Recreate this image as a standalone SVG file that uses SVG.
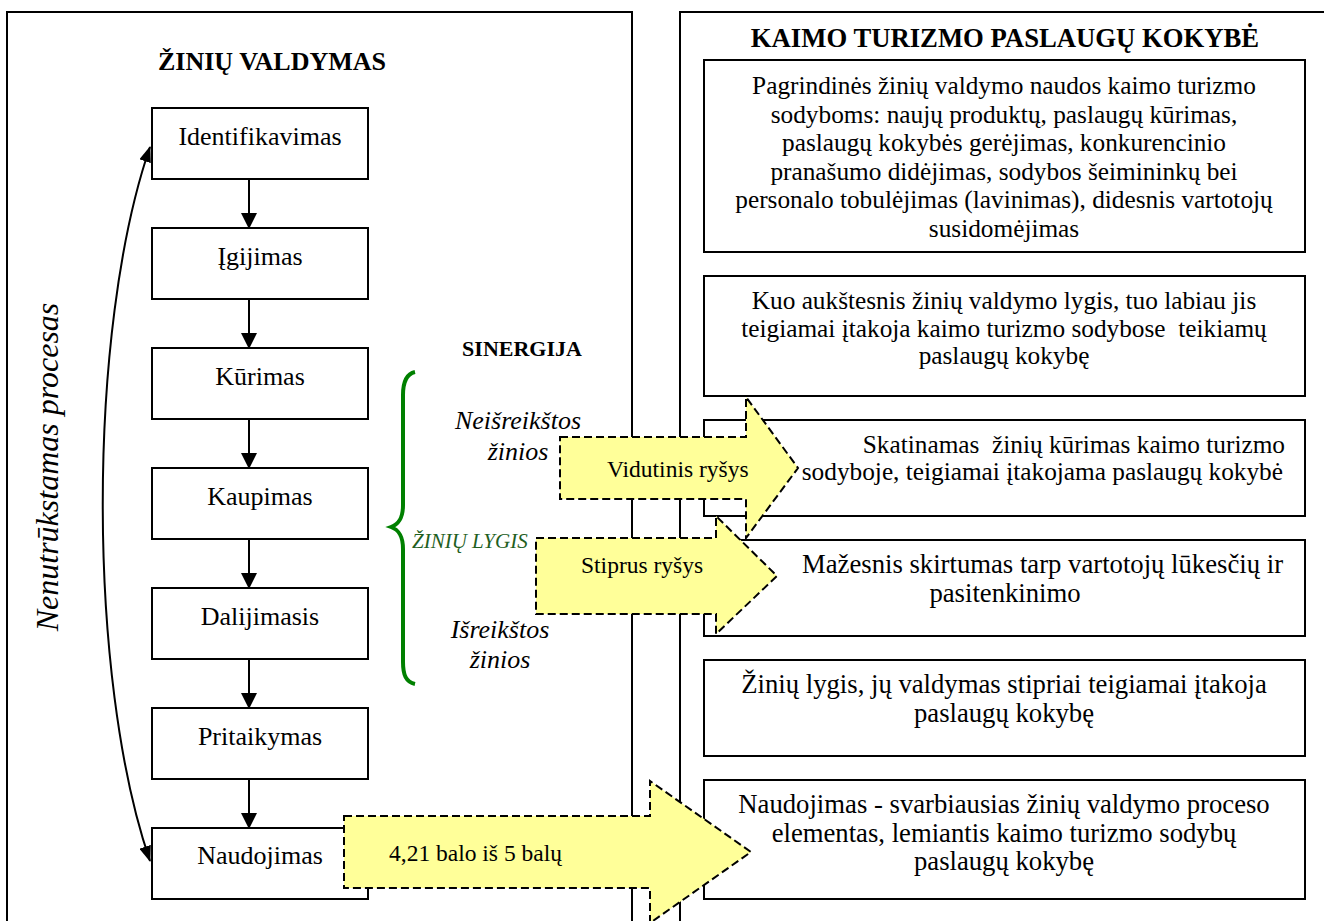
<svg xmlns="http://www.w3.org/2000/svg" width="1324" height="921" viewBox="0 0 1324 921">
  <style>
    .panel { fill: #ffffff; stroke: #000; stroke-width: 2; }
    .box { fill: #ffffff; stroke: #000; stroke-width: 2; }
    .t { font-family: "Liberation Serif", "Times New Roman", serif; fill: #000; }
    .step { font-size: 26px; text-anchor: middle; }
    .body { font-size: 25.3px; }
    .body2 { font-size: 26.7px; }
    .mid { text-anchor: middle; }
    .end { text-anchor: end; }
    .title { font-weight: bold; text-anchor: middle; }
    .it { font-style: italic; }
    .conn { stroke: #000; stroke-width: 2; fill: none; }
    .big { fill: #ffff99; stroke: #000; stroke-width: 2; stroke-dasharray: 8 4; }
    .lbl { font-size: 23.5px; }
  </style>
  <defs>
    <marker id="ah" viewBox="0 0 16 16" markerWidth="16" markerHeight="16" refX="15" refY="8" orient="auto" markerUnits="userSpaceOnUse">
      <path d="M0,0 L16,8 L0,16 z" fill="#000"/>
    </marker>
    <marker id="ahc" viewBox="0 0 16 12" markerWidth="16" markerHeight="12" refX="15" refY="6" orient="auto-start-reverse" markerUnits="userSpaceOnUse">
      <path d="M0,0 L16,6 L0,12 z" fill="#000"/>
    </marker>
  </defs>

  <rect width="1324" height="921" fill="#ffffff"/>

  <!-- two outer panels -->
  <g id="panel-left">
    <rect class="panel" x="7" y="12" width="625" height="930"/>
    <text class="t title" font-size="26" x="272" y="70">ŽINIŲ VALDYMAS</text>
  </g>
  <g id="panel-right">
    <rect class="panel" x="680" y="12" width="670" height="930"/>
    <text class="t title" font-size="26.7" x="1005" y="47">KAIMO TURIZMO PASLAUGŲ KOKYBĖ</text>
  </g>

  <!-- process steps -->
  <g id="identifikavimas"><rect class="box" x="152" y="108" width="216" height="71"/><text class="t step" x="260" y="145">Identifikavimas</text></g>
  <g id="igijimas"><rect class="box" x="152" y="228" width="216" height="71"/><text class="t step" x="260" y="265">Įgijimas</text></g>
  <g id="kurimas"><rect class="box" x="152" y="348" width="216" height="71"/><text class="t step" x="260" y="385">Kūrimas</text></g>
  <g id="kaupimas"><rect class="box" x="152" y="468" width="216" height="71"/><text class="t step" x="260" y="505">Kaupimas</text></g>
  <g id="dalijimasis"><rect class="box" x="152" y="588" width="216" height="71"/><text class="t step" x="260" y="625">Dalijimasis</text></g>
  <g id="pritaikymas"><rect class="box" x="152" y="708" width="216" height="71"/><text class="t step" x="260" y="745">Pritaikymas</text></g>
  <g id="naudojimas"><rect class="box" x="152" y="828" width="216" height="71"/><text class="t step" x="260" y="864">Naudojimas</text></g>

  <!-- cycle label -->
  <g id="cycle-label">
    <text class="t it" font-size="32" text-anchor="middle" transform="translate(58,467) rotate(-90)">Nenutrūkstamas procesas</text>
  </g>

  <!-- synergy block -->
  <g id="sinergija">
    <text class="t" font-size="22" font-weight="bold" text-anchor="middle" x="522" y="356">SINERGIJA</text>
    <path d="M415,372 C406,374 403,382 403,395 L403,505 C403,518 399,524 391,527 C399,530 403,536 403,549 L403,662 C403,675 406,682 415,684" fill="none" stroke="#008000" stroke-width="4"/>
    <text class="t it" font-size="26" text-anchor="middle" x="518" y="429">Neišreikštos</text>
    <text class="t it" font-size="26" text-anchor="middle" x="518" y="460">žinios</text>
    <text class="t it" font-size="21" x="412" y="548" style="fill:#1f5f1f">ŽINIŲ LYGIS</text>
    <text class="t it" font-size="26" text-anchor="middle" x="500" y="638">Išreikštos</text>
    <text class="t it" font-size="26" text-anchor="middle" x="500" y="668">žinios</text>
  </g>

  <!-- quality statements -->
  <g id="q1">
    <rect class="box" x="704" y="60" width="601" height="192"/>
    <text class="t body mid" x="1004" y="94">Pagrindinės žinių valdymo naudos kaimo turizmo</text>
    <text class="t body mid" x="1004" y="122.5">sodyboms: naujų produktų, paslaugų kūrimas,</text>
    <text class="t body mid" x="1004" y="151">paslaugų kokybės gerėjimas, konkurencinio</text>
    <text class="t body mid" x="1004" y="179.5">pranašumo didėjimas, sodybos šeimininkų bei</text>
    <text class="t body mid" x="1004" y="208">personalo tobulėjimas (lavinimas), didesnis vartotojų</text>
    <text class="t body mid" x="1004" y="236.5">susidomėjimas</text>
  </g>
  <g id="q2">
    <rect class="box" x="704" y="276" width="601" height="120"/>
    <text class="t body mid" x="1004" y="309">Kuo aukštesnis žinių valdymo lygis, tuo labiau jis</text>
    <text class="t body mid" x="1004" y="337" xml:space="preserve">teigiamai įtakoja kaimo turizmo sodybose  teikiamų</text>
    <text class="t body mid" x="1004" y="364">paslaugų kokybę</text>
  </g>
  <g id="q3">
    <rect class="box" x="704" y="420" width="601" height="96"/>
    <text class="t body end" x="1285" y="453" xml:space="preserve">Skatinamas  žinių kūrimas kaimo turizmo</text>
    <text class="t body end" x="1283" y="480">sodyboje, teigiamai įtakojama paslaugų kokybė</text>
  </g>
  <g id="q4">
    <rect class="box" x="704" y="540" width="601" height="96"/>
    <text class="t body2" x="802" y="573">Mažesnis skirtumas tarp vartotojų lūkesčių ir</text>
    <text class="t body2 mid" x="1005" y="602">pasitenkinimo</text>
  </g>
  <g id="q5">
    <rect class="box" x="704" y="660" width="601" height="96"/>
    <text class="t body2 mid" x="1004" y="693">Žinių lygis, jų valdymas stipriai teigiamai įtakoja</text>
    <text class="t body2 mid" x="1004" y="722">paslaugų kokybę</text>
  </g>
  <g id="q6">
    <rect class="box" x="704" y="780" width="601" height="119"/>
    <text class="t body2 mid" x="1004" y="813">Naudojimas - svarbiausias žinių valdymo proceso</text>
    <text class="t body2 mid" x="1004" y="842">elementas, lemiantis kaimo turizmo sodybų</text>
    <text class="t body2 mid" x="1004" y="870">paslaugų kokybę</text>
  </g>

  <!-- connectors -->
  <g id="connectors">
    <line class="conn" x1="249" y1="179" x2="249" y2="228" marker-end="url(#ah)"/>
    <line class="conn" x1="249" y1="299" x2="249" y2="348" marker-end="url(#ah)"/>
    <line class="conn" x1="249" y1="419" x2="249" y2="468" marker-end="url(#ah)"/>
    <line class="conn" x1="249" y1="539" x2="249" y2="588" marker-end="url(#ah)"/>
    <line class="conn" x1="249" y1="659" x2="249" y2="708" marker-end="url(#ah)"/>
    <line class="conn" x1="249" y1="779" x2="249" y2="828" marker-end="url(#ah)"/>
    <path class="conn" stroke-width="2.6" d="M150,147 C87,330 87,678 150,861" marker-start="url(#ahc)" marker-end="url(#ahc)"/>

    <!-- block arrows linking both sides -->
    <g id="link-medium">
      <path class="big" d="M560,437 L746,437 L746,397 L798,468 L746,538 L746,499 L560,499 Z"/>
      <text class="t lbl" x="607" y="477">Vidutinis ryšys</text>
    </g>
    <g id="link-strong">
      <path class="big" d="M536,538 L716,538 L716,516 L777,576 L716,634 L716,614 L536,614 Z"/>
      <text class="t lbl" x="581" y="573">Stiprus ryšys</text>
    </g>
    <g id="link-score">
      <path class="big" d="M344,816 L650,816 L650,781 L751,852 L650,923 L650,888 L344,888 Z"/>
      <text class="t lbl" x="389" y="861">4,21 balo iš 5 balų</text>
    </g>
  </g>
</svg>
